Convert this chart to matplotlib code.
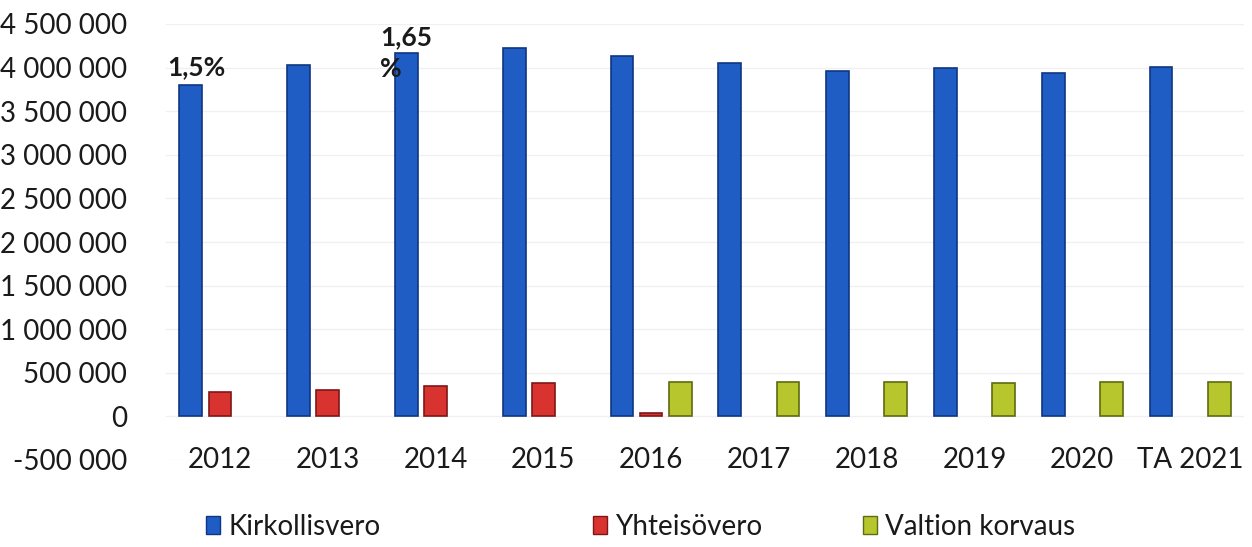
import numpy as np
import matplotlib.pyplot as plt
from matplotlib.patches import Patch

plt.rcParams['font.family'] = ['Lato', 'DejaVu Sans']

# Data (nan = no bar)
years = ['2012', '2013', '2014', '2015', '2016', '2017', '2018', '2019', '2020', 'TA 2021']
kirkollisvero = [3800000, 4025000, 4170000, 4230000, 4130000, 4050000, 3960000, 3990000, 3940000, 4010000]
yhteisovero = [275000, 300000, 345000, 380000, 35000, np.nan, np.nan, np.nan, np.nan, np.nan]
valtion_korvaus = [np.nan, np.nan, np.nan, np.nan, 400000, 400000, 400000, 385000, 390000, 395000]
ytick_vals = np.arange(-500000, 4500001, 500000)
labels = {0: '1,5%', 2: '1,65\n%'}

blue, blue_e = '#1f5cc4', '#0f3682'
red, red_e = '#d8332f', '#7f1717'
green, green_e = '#b7c62c', '#5f6b10'

fig = plt.figure(figsize=(12.52, 5.47), dpi=100)
ax = fig.add_axes([166/1252, 1-460/547, 1078/1252, 436/547])

x = np.arange(len(years))
w = 0.21
off = 0.27
ax.bar(x-off, kirkollisvero, w, color=blue, edgecolor=blue_e, linewidth=1.2, zorder=3)
ax.bar(x, yhteisovero, w, color=red, edgecolor=red_e, linewidth=1.2, zorder=3)
ax.bar(x+off, valtion_korvaus, w, color=green, edgecolor=green_e, linewidth=1.2, zorder=3)

ax.set_xlim(-0.5, len(years)-0.5)
ax.set_ylim(-500000, 4500000)
ax.set_yticks(ytick_vals)
ax.set_yticklabels([f'{v:,}'.replace(',', ' ') for v in ytick_vals], fontsize=20, color='#1a1a1a')
ax.tick_params(axis='y', length=0, pad=28)
ax.set_xticks([])
ax.grid(axis='y', color='#f0f0f0', linewidth=1, zorder=0)
for s in ax.spines.values():
    s.set_visible(False)

for i, yr in enumerate(years):
    ax.text(i, -500000, yr, ha='center', va='center', fontsize=20, color='#1a1a1a')

ax.text(0-off+0.05, kirkollisvero[0]+70000, labels[0], ha='center', va='bottom',
        fontsize=19, fontweight='bold', color='#1a1a1a', zorder=5)
ax.text(2-off, kirkollisvero[2], labels[2], ha='center', va='center', multialignment='left',
        fontsize=19, fontweight='bold', color='#1a1a1a', linespacing=1.4, zorder=5)

entries = [('Kirkollisvero', blue, blue_e, 206), ('Yhteisövero', red, red_e, 593), ('Valtion korvaus', green, green_e, 863)]
for name, c, e, px in entries:
    leg = fig.legend(handles=[Patch(facecolor=c, edgecolor=e, label=name)], loc='center left',
                     bbox_to_anchor=(px/1252, 1-527/547), frameon=False, fontsize=20,
                     handlelength=0.5, handleheight=0.6, handletextpad=0.3, borderpad=0, borderaxespad=0)
    for t in leg.get_texts():
        t.set_color('#1a1a1a')

fig.savefig('out.png', dpi=100)
